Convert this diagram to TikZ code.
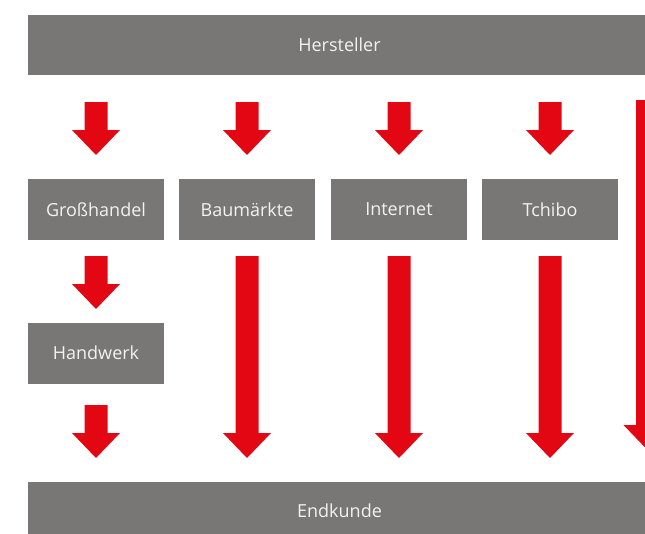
\documentclass[tikz,border=0pt]{standalone}
\usepackage{fontspec}
\setmainfont{Open Sans}
\usetikzlibrary{calc}
\definecolor{boxgray}{HTML}{787776}
\definecolor{arrowred}{HTML}{E30613}
\definecolor{txtwhite}{HTML}{F2F2F2}
\tikzset{
  bar/.style={fill=boxgray, draw=none, minimum height=#1, inner sep=0pt, text=txtwhite, font=\fontsize{18}{20}\selectfont},
  bar/.default=60pt,
  chan/.style={fill=boxgray, draw=none, minimum width=136pt, minimum height=61pt, inner sep=0pt, text=txtwhite, font=\fontsize{18}{20}\selectfont},
}
\newcommand\blockarr[3][25pt]{%
  \fill[arrowred] let \p1=(#2), \p2=(#3) in
    (\x1-11.5pt,\y1) -- (\x1+11.5pt,\y1) -- (\x1+11.5pt,\y2+#1) -- (\x1+24pt,\y2+#1)
    -- (\x1,\y2) -- (\x1-24pt,\y2+#1) -- (\x1-11.5pt,\y2+#1) -- cycle;}
\begin{document}
\begin{tikzpicture}[x=1pt,y=-1pt]
\useasboundingbox (0,0) rectangle (645,533);
\clip (0,0) rectangle (645,533);
% bars
\node[bar, minimum width=623pt] (hersteller) at (339.5,45) {Hersteller};
\node[bar=58pt, minimum width=623pt] (endkunde) at (339.5,511) {Endkunde};
% channel boxes
\node[chan] (gross) at (96,209.5) {Großhandel};
\node[chan] (bau) at (247,209.5) {Baumärkte};
\node[chan] (inet) at (399,209.5) {Internet};
\node[chan] (tchibo) at (550,209.5) {Tchibo};
\node[chan] (hand) at (96,353) {Handwerk};
% arrow end points
\coordinate (a1s) at (96,102);  \coordinate (a1e) at (96,155);
\coordinate (a2s) at (247,102); \coordinate (a2e) at (247,155);
\coordinate (a3s) at (399,102); \coordinate (a3e) at (399,155);
\coordinate (a4s) at (550,102); \coordinate (a4e) at (550,155);
\coordinate (b1s) at (96,256);  \coordinate (b1e) at (96,309);
\coordinate (c1s) at (96,405);  \coordinate (c1e) at (96,458);
\coordinate (b2s) at (247,256); \coordinate (b2e) at (247,458);
\coordinate (b3s) at (399,256); \coordinate (b3e) at (399,458);
\coordinate (b4s) at (550,256); \coordinate (b4e) at (550,458);
\coordinate (rs) at (647.5,100); \coordinate (re) at (647.5,450);
% arrows
\blockarr{a1s}{a1e}
\blockarr{a2s}{a2e}
\blockarr{a3s}{a3e}
\blockarr{a4s}{a4e}
\blockarr{b1s}{b1e}
\blockarr{c1s}{c1e}
\blockarr{b2s}{b2e}
\blockarr{b3s}{b3e}
\blockarr{b4s}{b4e}
\blockarr{rs}{re}
\end{tikzpicture}
\end{document}
